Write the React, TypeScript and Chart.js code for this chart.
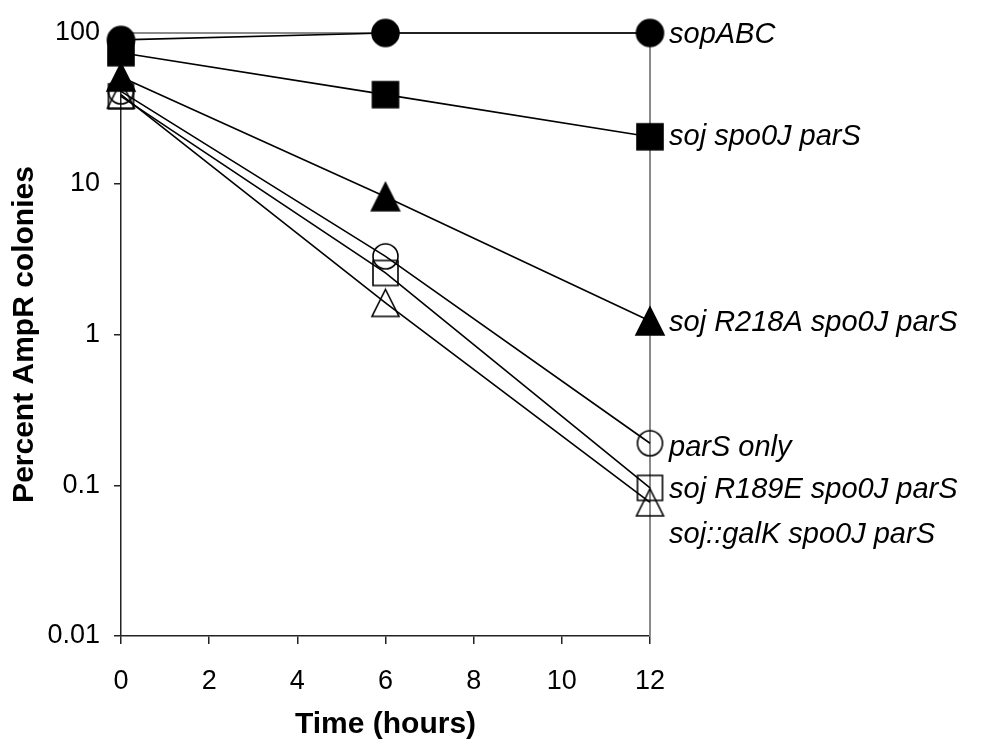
import React, { useEffect, useRef } from "react";
import { Chart, registerables } from "chart.js";

Chart.register(...registerables);

const times = [0, 6, 12];
const seriesNames = [
  "sopABC",
  "soj spo0J parS",
  "soj R218A spo0J parS",
  "parS only",
  "soj R189E spo0J parS",
  "soj::galK spo0J parS",
];
const sopABC = [90, 100, 100];
const sojSpo0JParS = [74, 39, 20.5];
const sojR218ASpo0JParS = [51, 8.2, 1.23];
const parSOnly = [41, 3.3, 0.19];
const sojR189ESpo0JParS = [38, 2.56, 0.096];
const sojGalKSpo0JParS = [39, 1.62, 0.077];
const yTicks = [0.01, 0.1, 1, 10, 100];
const xTicks = [0, 2, 4, 6, 8, 10, 12];

const FAMILY = "'Liberation Sans', Arial, Helvetica, sans-serif";

function makeMarker(shape: string, filled: boolean, size: number) {
  const c = document.createElement("canvas");
  const s = size + 4;
  c.width = s;
  c.height = s;
  const ctx = c.getContext("2d")!;
  const cx = s / 2;
  const cy = s / 2;
  const h = size / 2;
  ctx.beginPath();
  if (shape === "circle") ctx.arc(cx, cy, h, 0, Math.PI * 2);
  else if (shape === "square") ctx.rect(cx - h, cy - h, size, size);
  else {
    ctx.moveTo(cx, cy - h);
    ctx.lineTo(cx + h, cy + h);
    ctx.lineTo(cx - h, cy + h);
    ctx.closePath();
  }
  if (filled) {
    ctx.fillStyle = "#000";
    ctx.fill();
  }
  ctx.lineWidth = 1.6;
  ctx.strokeStyle = "#000";
  ctx.stroke();
  return c;
}

export default function App() {
  const ref = useRef<HTMLCanvasElement | null>(null);

  useEffect(() => {
    if (!ref.current) return;
    const seriesValues = [
      sopABC,
      sojSpo0JParS,
      sojR218ASpo0JParS,
      parSOnly,
      sojR189ESpo0JParS,
      sojGalKSpo0JParS,
    ];
    const markers = [
      makeMarker("circle", true, 27),
      makeMarker("square", true, 26),
      makeMarker("triangle", true, 28),
      makeMarker("circle", false, 25),
      makeMarker("square", false, 25),
      makeMarker("triangle", false, 27),
    ];
    const labelNudge = [2, 0, 2, 5, 2, 33];

    const decor = {
      id: "decor",
      beforeDatasetsDraw(chart: any) {
        const { ctx, chartArea: a } = chart;
        ctx.save();
        ctx.strokeStyle = "#8a8a8a";
        ctx.lineWidth = 2;
        ctx.beginPath();
        ctx.moveTo(a.left, a.top);
        ctx.lineTo(a.right, a.top);
        ctx.lineTo(a.right, a.bottom);
        ctx.stroke();
        ctx.restore();
      },
      afterDatasetsDraw(chart: any) {
        const { ctx } = chart;
        const xs = chart.scales.x;
        const ys = chart.scales.y;
        ctx.save();
        ctx.fillStyle = "#000";
        ctx.font = `italic 29px ${FAMILY}`;
        ctx.textAlign = "left";
        ctx.textBaseline = "middle";
        seriesNames.forEach((name, i) => {
          const vals = seriesValues[i];
          const x = xs.getPixelForValue(times[times.length - 1]) + 19;
          const y = ys.getPixelForValue(vals[vals.length - 1]) + labelNudge[i];
          ctx.fillText(name, x, y);
        });
        ctx.restore();
      },
    };

    const chart = new Chart(ref.current, {
      type: "line",
      data: {
        datasets: seriesNames.map((name, i) => ({
          label: name,
          data: times.map((t, j) => ({ x: t, y: seriesValues[i][j] })),
          borderColor: "#000",
          backgroundColor: "#000",
          borderWidth: 1.6,
          pointStyle: markers[i] as any,
          pointRadius: 13,
          pointHoverRadius: 13,
          clip: false as any,
          tension: 0,
        })),
      },
      options: {
        animation: false,
        responsive: false,
        devicePixelRatio: 1,
        events: [],
        layout: { padding: { left: 0, top: 33, right: 348, bottom: 0 } },
        plugins: {
          legend: { display: false },
          tooltip: { enabled: false },
        },
        scales: {
          x: {
            type: "linear",
            min: 0,
            max: 12,
            afterBuildTicks: (s: any) => {
              s.ticks = xTicks.map((v) => ({ value: v }));
            },
            afterFit: (s: any) => {
              s.height = 111;
            },
            grid: {
              drawOnChartArea: false,
              drawTicks: true,
              tickLength: 8,
              color: "#222",
              lineWidth: 1.5,
            },
            border: { color: "#222", width: 1.5 },
            ticks: {
              font: { family: FAMILY, size: 27 },
              color: "#000",
              padding: 21,
              maxRotation: 0,
              autoSkip: false,
            },
            title: {
              display: true,
              text: "Time (hours)",
              font: { family: FAMILY, size: 30, weight: "bold" },
              color: "#000",
              padding: { top: 0, bottom: 4 },
            },
          },
          y: {
            type: "logarithmic",
            min: 0.01,
            max: 100,
            afterBuildTicks: (s: any) => {
              s.ticks = yTicks.map((v) => ({ value: v }));
            },
            afterFit: (s: any) => {
              s.width = 121;
            },
            grid: {
              drawOnChartArea: false,
              drawTicks: true,
              tickLength: 7,
              color: "#222",
              lineWidth: 1.5,
            },
            border: { color: "#222", width: 1.5 },
            ticks: {
              font: { family: FAMILY, size: 27 },
              color: "#000",
              padding: 14,
              autoSkip: false,
              callback: (v: any) => String(Number(v)),
            },
            title: {
              display: true,
              text: "Percent AmpR colonies",
              font: { family: FAMILY, size: 30, weight: "bold" },
              color: "#000",
              padding: { top: 7, bottom: 0 },
            },
          },
        },
      },
      plugins: [decor],
    } as any);

    return () => chart.destroy();
  }, []);

  return (
    <div style={{ position: "fixed", left: 0, top: 0, width: 998, height: 747, background: "#fff" }}>
      <canvas ref={ref} width={998} height={747} style={{ width: 998, height: 747, display: "block" }} />
    </div>
  );
}
